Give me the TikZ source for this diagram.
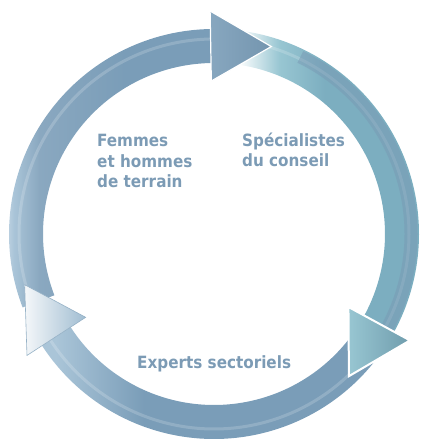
\documentclass[tikz,border=0pt]{standalone}
\usepackage{fontspec}
\setmainfont{DejaVu Sans Condensed}
\usepackage{xcolor}

\definecolor{arBlue}{RGB}{122,157,184}
\definecolor{arMid}{RGB}{138,168,192}
\definecolor{arSky}{RGB}{170,197,216}
\definecolor{arPale}{RGB}{222,232,241}
\definecolor{arTeal}{RGB}{124,174,192}
\definecolor{arTealLt}{RGB}{152,198,210}
\definecolor{arSlate}{RGB}{120,150,178}
\definecolor{lblBlue}{RGB}{124,155,181}

\pgfdeclarehorizontalshading{topband}{100bp}{color(0bp)=(arPale); color(25bp)=(arPale); color(29bp)=(arSky); color(35bp)=(arMid); color(55bp)=(arBlue); color(100bp)=(arBlue)}
\pgfdeclarehorizontalshading{rightband}{100bp}{color(0bp)=(white); color(25bp)=(white); color(36bp)=(arTealLt); color(48bp)=(arTeal); color(100bp)=(arTeal)}
\pgfdeclarehorizontalshading{bottomband}{100bp}{color(0bp)=(arSky); color(27bp)=(arSky); color(40bp)=(arBlue); color(100bp)=(arBlue)}

\tikzset{
    tophead/.style={left color=arBlue!90!white, right color=arBlue!95!black, draw=white, line width=1.2pt},
    righthead/.style={left color=arTealLt, right color=arTeal!90!black, draw=white, line width=2pt},
    lefthead/.style={left color=white!92!arBlue, right color=arSky!80!arBlue, draw=arBlue!80, line width=.6pt},
    lbl/.style={anchor=base west, inner sep=0pt, align=left, text=lblBlue, font=\bfseries\fontsize{16.9pt}{20.5pt}\selectfont}
}

\begin{document}
\begin{tikzpicture}[x=1pt, y=1pt]
            \useasboundingbox (0,0) rectangle (421,443);
            \begin{scope}[shift={(214,209)}]
                % the three bands, clockwise
                \foreach \from/\to/\sh in {201/91/topband, 82/-28.5/rightband, -35/-147/bottomband} {
                    \shade[shading=\sh] (\from:205pt) arc[start angle=\from, end angle=\to, radius=205pt]
                        -- (\to:171pt) arc[start angle=\to, end angle=\from, radius=171pt] -- cycle;
                    \draw[white, opacity=.18, line width=3pt] (\from:195pt) arc[start angle=\from, end angle=\to, radius=195pt];
                }
                % bluer outer half on the right band
                \draw[arSlate, opacity=.45, line width=13pt] (64:197pt) arc[start angle=64, end angle=-28.5, radius=197pt];
                % heads on top of the next tail
                \foreach \b/\sty in {91/tophead, -28.5/righthead, 213/lefthead} {
                    \shadedraw[\sty] (\b:153pt) -- (\b:223pt) -- ({\b-18}:196pt) -- cycle;
                }
            \end{scope}
            \node[lbl] (terrain) at (97,255) {Femmes\\et hommes\\de terrain};
            \node[lbl] (conseil) at (242,276) {Sp\'ecialistes\\du conseil};
            \node[lbl] (experts) at (137,74) {Experts sectoriels};
        \end{tikzpicture}
\end{document}
